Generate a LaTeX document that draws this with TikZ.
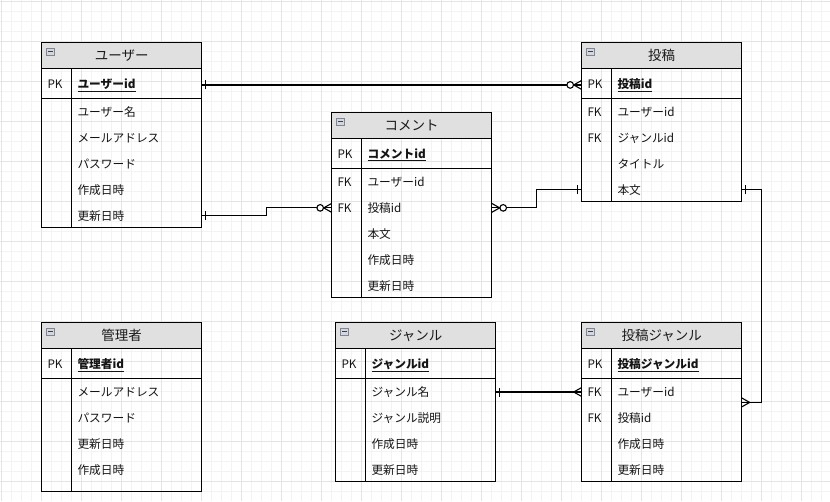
\documentclass[tikz,border=0pt]{standalone}
\usepackage{fontspec}
\setmainfont{Noto Sans CJK JP}
\usetikzlibrary{calc}
\definecolor{gridminor}{HTML}{F3F3F3}
\definecolor{gridmajor}{HTML}{E4E4E4}
\definecolor{hdrfill}{HTML}{E0E0E0}
\definecolor{iconline}{HTML}{7F8596}
\definecolor{iconfill}{HTML}{D5D7DE}
\tikzset{
  tab/.style={draw, line width=1.1pt, minimum width=160pt, inner sep=0pt, outer sep=0pt},
  hdr/.style={draw, fill=hdrfill, line width=1.1pt, minimum width=160pt, minimum height=26pt, inner sep=0pt, outer sep=0pt},
  ttl/.style={font=\fontsize{13.5}{16}\selectfont, inner sep=0pt, text=black!90},
  txt/.style={font=\fontsize{11.7}{14}\selectfont, inner sep=0pt, anchor=base west, text=black!92},
  pktxt/.style={txt, font=\fontsize{11.7}{14}\selectfont\bfseries},
  minusicon/.style={draw=iconline, fill=iconfill, line width=0.7pt, minimum size=7.5pt, inner sep=0pt},
  rel/.style={line width=1.1pt},
  one/.pic={\draw[rel] (-3.8,-4.5) -- (-3.8,4.5);},
  many/.pic={\draw[rel] (-8,0) -- (0,-4.5) (-8,0) -- (0,4.5);},
  zmany/.pic={\draw[rel] (-8,0) -- (0,-4.5) (-8,0) -- (0,4.5); \draw[rel, fill=white] (-11.5,0) circle[radius=3.3pt];},
}
\newcommand{\ertab}[6]{%
  \node[tab, minimum height=#4pt, anchor=north west] (#1) at (#2,#3) {};
  \node[hdr, anchor=north west] (#1-h) at (#1.north west) {};
  \node[ttl] (#1-t) at (#1-h.center) {#5};
  \node[minusicon] (#1-m) at ($(#1.north west)+(8.7,9.3)$) {};
  \draw[line width=0.8pt, black!75] ($(#1-m.center)+(-2.2,0)$) -- ($(#1-m.center)+(2.2,0)$);
  \draw[rel] ($(#1.north west)+(0,56)$) -- ($(#1.north east)+(0,56)$);
  \draw[rel] ($(#1.north west)+(30,26)$) -- ($(#1.south west)+(30,0)$);
  \node[txt] (#1-pkl) at ($(#1.north west)+(5.6,46)$) {PK};
  \node[pktxt] (#1-pk) at ($(#1.north west)+(35.6,46)$) {\underline{#6}};
}
\newcommand{\erow}[3]{\node[txt] (#1-#2) at ($(#1.north west)+(35.6,{74.1+(#2-1)*25.9})$) {#3};}
\newcommand{\efk}[2]{\node[txt] (#1-k#2) at ($(#1.north west)+(5.6,{74.1+(#2-1)*25.9})$) {FK};}
\begin{document}
\begin{tikzpicture}[x=1pt,y=-1pt]
\useasboundingbox (0,0) rectangle (830,501);
\fill[white] (0,0) rectangle (830,501);
\foreach \i in {0,...,82} {
  \draw[gridminor, line width=0.6pt] ({1.7+10*\i},0) -- ({1.7+10*\i},501);
}
\foreach \i in {0,...,49} {
  \draw[gridminor, line width=0.6pt] (0,{1.7+10*\i}) -- (830,{1.7+10*\i});
}
\foreach \i in {0,...,20} {
  \draw[gridmajor, line width=0.8pt] ({1.7+40*\i},0) -- ({1.7+40*\i},501);
}
\foreach \i in {0,...,12} {
  \draw[gridmajor, line width=0.8pt] (0,{1.7+40*\i}) -- (830,{1.7+40*\i});
}

% ユーザー
\ertab{user}{41.7}{42.3}{185.4}{ユーザー}{ユーザーid}
\erow{user}{1}{ユーザー名}
\erow{user}{2}{メールアドレス}
\erow{user}{3}{パスワード}
\erow{user}{4}{作成日時}
\erow{user}{5}{更新日時}

% コメント
\ertab{comment}{331.7}{112.3}{185.4}{コメント}{コメントid}
\efk{comment}{1}\erow{comment}{1}{ユーザーid}
\efk{comment}{2}\erow{comment}{2}{投稿id}
\erow{comment}{3}{本文}
\erow{comment}{4}{作成日時}
\erow{comment}{5}{更新日時}

% 投稿
\ertab{post}{581.7}{42.3}{159.4}{投稿}{投稿id}
\efk{post}{1}\erow{post}{1}{ユーザーid}
\efk{post}{2}\erow{post}{2}{ジャンルid}
\erow{post}{3}{タイトル}
\erow{post}{4}{本文}

% 管理者
\ertab{admin}{41.7}{322.3}{169.4}{管理者}{管理者id}
\erow{admin}{1}{メールアドレス}
\erow{admin}{2}{パスワード}
\erow{admin}{3}{更新日時}
\erow{admin}{4}{作成日時}

% ジャンル
\ertab{genre}{335.7}{322.3}{159.4}{ジャンル}{ジャンルid}
\erow{genre}{1}{ジャンル名}
\erow{genre}{2}{ジャンル説明}
\erow{genre}{3}{作成日時}
\erow{genre}{4}{更新日時}

% 投稿ジャンル
\ertab{pg}{581.7}{322.3}{159.4}{投稿ジャンル}{投稿ジャンルid}
\efk{pg}{1}\erow{pg}{1}{ユーザーid}
\efk{pg}{2}\erow{pg}{2}{投稿id}
\erow{pg}{3}{作成日時}
\erow{pg}{4}{更新日時}

\coordinate (pgm) at ($(pg-1)!0.4!(pg-2)$);

% connectors
\draw[rel] (user.east |- user-pk) -- (post.west |- user-pk);
\pic[rotate=180] at (user.east |- user-pk) {one};
\pic at (post.west |- user-pk) {zmany};

\draw[rel] (user.east |- user-5) -- ++(65,0) |- (comment.west |- comment-2);
\pic[rotate=180] at (user.east |- user-5) {one};
\pic at (comment.west |- comment-2) {zmany};

\draw[rel] (comment.east |- comment-2) -- ++(45,0) |- (post.west |- post-4);
\pic[rotate=180] at (comment.east |- comment-2) {zmany};
\pic at (post.west |- post-4) {one};

\draw[rel] (post.east |- post-4) -- ++(20,0) |- (pg.east |- pgm);
\pic[rotate=180] at (post.east |- post-4) {one};
\pic[rotate=180] at (pg.east |- pgm) {many};

\draw[rel] (genre.east |- genre-1) -- (pg.west |- genre-1);
\pic[rotate=180] at (genre.east |- genre-1) {one};
\pic at (pg.west |- genre-1) {many};
\end{tikzpicture}
\end{document}
